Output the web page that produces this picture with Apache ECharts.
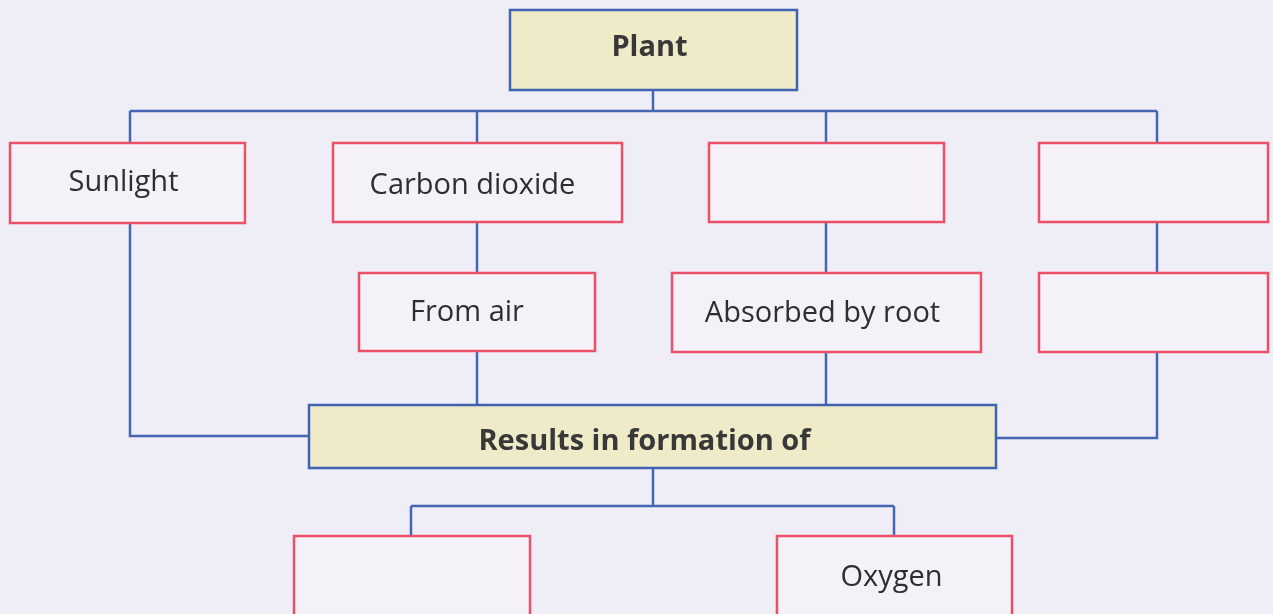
<!DOCTYPE html>
<html><head><meta charset="utf-8">
<script src="https://cdn.jsdelivr.net/npm/echarts@6/dist/echarts.min.js"></script>
<style>html,body{margin:0;padding:0;background:#efedf5;}#c{width:1273px;height:614px;}</style>
</head><body><div id="c"></div>
<script>
// ---- content ----
const nodeLabels = ['Plant','Sunlight','Carbon dioxide','','','From air','Absorbed by root','','Results in formation of','','Oxygen'];
const nodeKinds  = ['head','leaf','leaf','leaf','leaf','leaf','leaf','leaf','head','leaf','leaf'];

// ---- layout (diagram units = pixels of the page) ----
const boxRects = [
  [510,10,797,90],
  [10,143,245,223],
  [333,143,622,222],
  [709,143,944,222],
  [1039,143,1268,222],
  [359,273,595,351],
  [672,273,981,352],
  [1039,273,1268,352],
  [309,405,996,468],
  [294,536,530,620],
  [777,536,1012,620]
];
const labelShift = [[-4,-2],[-4,0],[-5,3],[0,0],[0,0],[-10,1],[-4,1],[0,0],[-8,5],[0,0],[-3,0]];
const connectorPaths = [
  [[653,90],[653,111]],
  [[130,111],[1157,111]],
  [[130,111],[130,143]],
  [[477,111],[477,143]],
  [[826,111],[826,143]],
  [[1157,111],[1157,143]],
  [[477,222],[477,273]],
  [[826,222],[826,273]],
  [[1157,222],[1157,273]],
  [[130,223],[130,436],[309,436]],
  [[477,351],[477,405]],
  [[826,352],[826,405]],
  [[1157,352],[1157,438],[996,438]],
  [[653,468],[653,506]],
  [[411,506],[894,506]],
  [[411,506],[411,536]],
  [[894,506],[894,536]]
];

const chart = echarts.init(document.getElementById('c'));
chart.setOption({
  backgroundColor:'#efedf5',
  animation:false,
  grid:{left:0,right:0,top:0,bottom:0},
  xAxis:{type:'value',min:0,max:1273,show:false},
  yAxis:{type:'value',min:0,max:614,inverse:true,show:false},
  series:[
    {
      type:'custom', clip:true, z:1,
      data: connectorPaths.map((p,i)=>[p[0][0],p[0][1],i]),
      renderItem:function(params,api){
        const pts = connectorPaths[api.value(2)].map(pt=>api.coord(pt));
        return {type:'polyline',shape:{points:pts},style:{stroke:'#4466b4',lineWidth:2.5,fill:null}};
      }
    },
    {
      type:'custom', clip:true, z:2,
      data: boxRects.map((b,i)=>[b[0],b[1],b[2],b[3],i]),
      renderItem:function(params,api){
        const i = api.value(4);
        const p0 = api.coord([api.value(0),api.value(1)]);
        const p1 = api.coord([api.value(2),api.value(3)]);
        const head = nodeKinds[i]==='head';
        const s = labelShift[i];
        return {type:'group',children:[
          {type:'rect',shape:{x:p0[0],y:p0[1],width:p1[0]-p0[0],height:p1[1]-p0[1]},
           style:{fill:head?'#efebc8':'#f4f2f8',stroke:head?'#3f62b3':'#ec5068',lineWidth:2.5}},
          {type:'text',x:(p0[0]+p1[0])/2+s[0],y:(p0[1]+p1[1])/2+s[1],
           style:{text:nodeLabels[i],fill:head?'#383838':'#2e2e2e',fontFamily:'Open Sans',fontSize:29,
             fontWeight:head?'bold':'normal',align:'center',verticalAlign:'middle'}}
        ]};
      }
    }
  ]
});
</script></body></html>
